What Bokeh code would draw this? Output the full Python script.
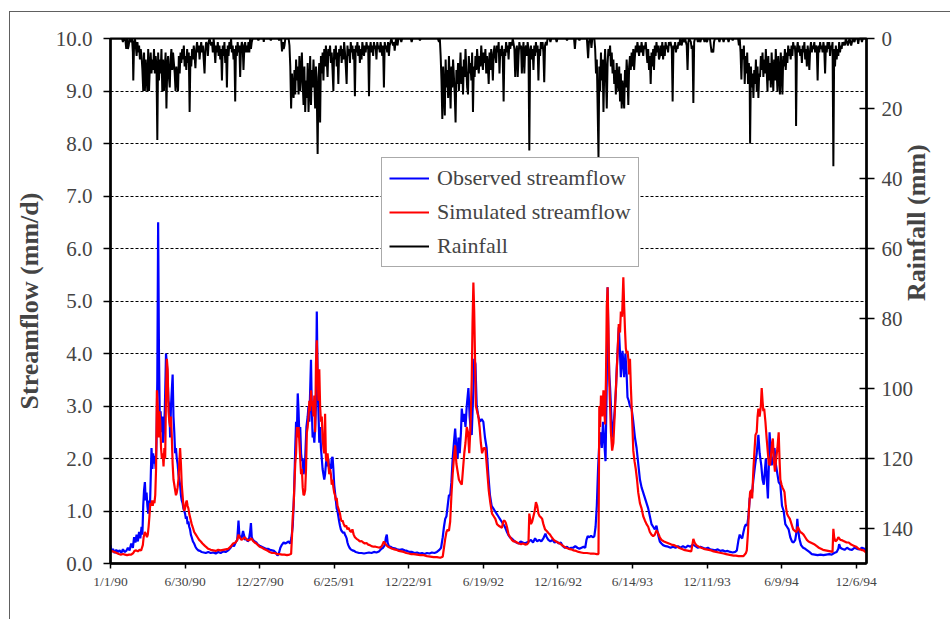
import math
from bokeh.plotting import figure
from bokeh.models import Range1d, LinearAxis, FixedTicker, PrintfTickFormatter, Legend, LegendItem, Label
from bokeh.embed import file_html
from bokeh.resources import INLINE

FONT = "Liberation Serif"

# ---- tick labels (day index from 1/1/90) ----
x_ticks = [0, 180, 360, 540, 720, 900, 1080, 1260, 1440, 1620, 1800]
x_labels = ["1/1/90", "6/30/90", "12/27/90", "6/25/91", "12/22/91", "6/19/92",
            "12/16/92", "6/14/93", "12/11/93", "6/9/94", "12/6/94"]
flow_ticks = [0, 1, 2, 3, 4, 5, 6, 7, 8, 9, 10]
rain_ticks = [0, 20, 40, 60, 80, 100, 120, 140]

# ---- observed streamflow (day, mm/d) ----
observed_flow = [
    (0, 0.35), (3, 0.22), (6, 0.28), (10, 0.2), (14, 0.26), (18, 0.22), (22, 0.25), (26, 0.2), (30, 0.27),
    (34, 0.22), (38, 0.24), (42, 0.3), (46, 0.25), (50, 0.38), (54, 0.3), (57, 0.5), (60, 0.4), (63, 0.55),
    (66, 0.42), (69, 0.6), (72, 0.48), (75, 0.7), (77, 0.55), (79, 1.1), (81, 1.4), (83, 1.55), (85, 1.2),
    (87, 1.35), (89, 1.1), (91, 0.95), (93, 1.2), (95, 1.0), (97, 1.6), (99, 2.2), (101, 1.8), (103, 2.1),
    (105, 1.9), (107, 2.05), (109, 1.8), (111, 2.3), (113, 3.5), (115, 6.5), (117, 4.0), (119, 2.7),
    (121, 2.9), (123, 2.5), (125, 2.8), (127, 2.3), (129, 2.5), (131, 2.9), (133, 3.6), (134, 4.0),
    (136, 3.8), (138, 3.5), (140, 3.1), (142, 3.0), (144, 2.4), (146, 3.0), (148, 3.3), (150, 3.6),
    (152, 2.8), (154, 2.5), (156, 2.1), (158, 2.2), (160, 2.0), (162, 1.9), (164, 1.7), (166, 1.6),
    (168, 1.5), (170, 1.3), (172, 1.2), (174, 1.15), (176, 1.05), (178, 1.0), (180, 0.95), (182, 0.85),
    (184, 0.9), (186, 0.75), (188, 0.8), (190, 0.7), (192, 0.65), (194, 0.55), (196, 0.5), (199, 0.42),
    (202, 0.38), (205, 0.32), (208, 0.28), (212, 0.25), (216, 0.24), (220, 0.22), (225, 0.21), (230, 0.2),
    (236, 0.22), (242, 0.2), (248, 0.21), (254, 0.19), (260, 0.22), (266, 0.2), (272, 0.23), (278, 0.22),
    (284, 0.25), (290, 0.3), (294, 0.35), (298, 0.33), (302, 0.4), (306, 0.45), (309, 0.82), (311, 0.55),
    (314, 0.48), (317, 0.5), (320, 0.62), (322, 0.55), (325, 0.45), (328, 0.48), (331, 0.42), (334, 0.45),
    (337, 0.6), (339, 0.77), (341, 0.5), (344, 0.45), (348, 0.42), (352, 0.4), (356, 0.36), (360, 0.34),
    (365, 0.32), (370, 0.3), (375, 0.28), (380, 0.28), (385, 0.26), (390, 0.25), (395, 0.24), (400, 0.2),
    (403, 0.15), (406, 0.18), (410, 0.3), (414, 0.36), (418, 0.4), (422, 0.38), (426, 0.4), (430, 0.42),
    (434, 0.38), (437, 0.5), (440, 0.72), (443, 1.3), (446, 2.2), (448, 2.7), (450, 2.5), (452, 3.24),
    (454, 2.9), (456, 2.4), (458, 2.6), (460, 2.1), (462, 1.95), (464, 2.0), (466, 1.7), (468, 1.8),
    (470, 2.0), (473, 2.6), (476, 2.8), (478, 3.0), (480, 2.7), (482, 3.3), (484, 3.88), (486, 2.9),
    (488, 2.4), (490, 2.5), (492, 2.3), (494, 2.6), (496, 3.0), (498, 4.8), (500, 3.5), (502, 2.9),
    (504, 2.3), (506, 2.6), (508, 2.2), (510, 2.0), (512, 1.8), (514, 1.7), (516, 1.6), (518, 1.7),
    (520, 1.9), (522, 2.0), (524, 1.85), (526, 2.0), (528, 1.75), (530, 1.9), (532, 1.8), (534, 2.0),
    (536, 2.03), (538, 1.8), (540, 1.5), (542, 1.35), (544, 1.2), (546, 1.05), (548, 1.0), (550, 0.9),
    (552, 0.8), (554, 0.72), (556, 0.65), (558, 0.62), (560, 0.6), (562, 0.58), (564, 0.6), (566, 0.55),
    (568, 0.52), (570, 0.48), (572, 0.4), (574, 0.35), (577, 0.3), (580, 0.27), (584, 0.25), (588, 0.24),
    (592, 0.22), (596, 0.21), (600, 0.2), (606, 0.2), (612, 0.19), (618, 0.2), (624, 0.21), (630, 0.2),
    (636, 0.22), (642, 0.21), (648, 0.23), (654, 0.28), (658, 0.3), (662, 0.35), (665, 0.5), (667, 0.55),
    (669, 0.4), (672, 0.33), (676, 0.32), (680, 0.3), (686, 0.29), (692, 0.27), (698, 0.26), (704, 0.27),
    (710, 0.25), (716, 0.24), (722, 0.22), (728, 0.22), (734, 0.2), (740, 0.21), (746, 0.19), (752, 0.2),
    (758, 0.18), (764, 0.2), (770, 0.19), (776, 0.21), (782, 0.2), (788, 0.22), (794, 0.26), (798, 0.3),
    (802, 0.5), (805, 0.7), (808, 0.85), (811, 0.9), (814, 1.1), (817, 1.3), (820, 1.3), (823, 1.55),
    (826, 2.0), (829, 2.3), (832, 2.57), (835, 2.2), (838, 2.0), (840, 2.4), (843, 2.1), (846, 2.5),
    (848, 2.95), (851, 2.7), (854, 2.85), (857, 2.6), (860, 3.0), (864, 3.34), (867, 2.8), (870, 2.5),
    (872, 2.45), (874, 2.9), (876, 3.3), (878, 3.9), (881, 3.8), (884, 3.0), (888, 2.8), (892, 2.7),
    (896, 2.75), (900, 2.7), (904, 2.4), (908, 2.2), (912, 1.7), (916, 1.3), (920, 1.1), (924, 1.05),
    (928, 1.0), (932, 0.95), (936, 0.9), (940, 0.85), (944, 0.8), (948, 0.75), (952, 0.7), (956, 0.62),
    (960, 0.55), (964, 0.5), (968, 0.48), (972, 0.45), (976, 0.42), (980, 0.4), (985, 0.38), (990, 0.42),
    (995, 0.4), (1000, 0.38), (1005, 0.4), (1010, 0.42), (1015, 0.45), (1020, 0.4), (1025, 0.48),
    (1030, 0.42), (1035, 0.45), (1040, 0.42), (1045, 0.48), (1050, 0.57), (1053, 0.5), (1057, 0.45),
    (1062, 0.42), (1067, 0.45), (1072, 0.4), (1077, 0.42), (1082, 0.38), (1087, 0.4), (1092, 0.33),
    (1097, 0.3), (1102, 0.32), (1107, 0.28), (1112, 0.3), (1117, 0.3), (1122, 0.33), (1127, 0.3),
    (1132, 0.28), (1137, 0.3), (1142, 0.32), (1146, 0.3), (1149, 0.45), (1152, 0.52), (1156, 0.5),
    (1160, 0.53), (1164, 0.5), (1168, 0.52), (1171, 0.7), (1174, 1.1), (1177, 1.8), (1180, 2.3),
    (1183, 2.5), (1186, 2.2), (1189, 2.7), (1192, 2.3), (1195, 1.95), (1198, 3.5), (1200, 5.26),
    (1202, 4.2), (1204, 3.6), (1206, 3.35), (1208, 3.0), (1211, 2.4), (1214, 2.6), (1217, 2.9),
    (1220, 3.3), (1222, 3.7), (1224, 4.0), (1227, 4.5), (1230, 4.0), (1232, 3.55), (1234, 3.8),
    (1236, 4.05), (1238, 3.8), (1240, 3.55), (1243, 4.0), (1246, 3.6), (1248, 3.17), (1251, 3.1),
    (1254, 3.0), (1258, 2.95), (1262, 2.7), (1266, 2.4), (1270, 2.2), (1274, 1.9), (1278, 1.6),
    (1282, 1.45), (1286, 1.35), (1290, 1.25), (1294, 1.15), (1298, 1.05), (1302, 0.9), (1306, 0.75),
    (1310, 0.7), (1314, 0.65), (1318, 0.72), (1322, 0.55), (1326, 0.42), (1330, 0.38), (1334, 0.35),
    (1340, 0.33), (1346, 0.32), (1352, 0.3), (1358, 0.32), (1364, 0.3), (1370, 0.33), (1376, 0.3),
    (1382, 0.33), (1388, 0.3), (1394, 0.34), (1400, 0.32), (1406, 0.36), (1412, 0.33), (1418, 0.3),
    (1424, 0.32), (1430, 0.3), (1436, 0.28), (1442, 0.3), (1448, 0.27), (1454, 0.26), (1460, 0.25),
    (1466, 0.27), (1472, 0.24), (1478, 0.25), (1484, 0.23), (1490, 0.24), (1496, 0.22), (1502, 0.21),
    (1508, 0.22), (1512, 0.25), (1516, 0.45), (1519, 0.55), (1522, 0.5), (1525, 0.48), (1528, 0.6),
    (1531, 0.7), (1534, 0.75), (1537, 0.72), (1540, 0.9), (1543, 1.24), (1546, 1.3), (1549, 1.36),
    (1552, 1.6), (1556, 1.87), (1560, 2.1), (1564, 2.45), (1567, 2.1), (1571, 1.87), (1574, 1.6),
    (1577, 1.5), (1580, 1.8), (1582, 2.0), (1585, 1.5), (1587, 1.24), (1589, 1.8), (1591, 2.5),
    (1594, 2.1), (1596, 1.87), (1600, 2.0), (1603, 2.2), (1606, 1.9), (1609, 1.75), (1613, 1.55),
    (1617, 1.5), (1621, 1.1), (1625, 1.0), (1629, 0.75), (1633, 0.7), (1637, 0.65), (1641, 0.5),
    (1645, 0.42), (1649, 0.4), (1653, 0.45), (1656, 0.6), (1658, 0.85), (1660, 0.65), (1663, 0.47),
    (1667, 0.35), (1672, 0.3), (1677, 0.28), (1682, 0.25), (1687, 0.22), (1693, 0.18), (1700, 0.17),
    (1707, 0.16), (1714, 0.17), (1721, 0.16), (1728, 0.17), (1735, 0.18), (1741, 0.17), (1747, 0.2),
    (1753, 0.22), (1757, 0.28), (1759, 0.37), (1762, 0.3), (1766, 0.28), (1772, 0.26), (1778, 0.3),
    (1784, 0.27), (1790, 0.26), (1796, 0.3), (1802, 0.28), (1808, 0.27), (1814, 0.3), (1820, 0.28),
    (1825, 0.25),
]

# ---- simulated streamflow (day, mm/d) ----
simulated_flow = [
    (0, 0.25), (5, 0.23), (10, 0.22), (15, 0.2), (20, 0.18), (25, 0.17), (30, 0.18), (35, 0.17), (40, 0.16),
    (45, 0.17), (50, 0.17), (55, 0.2), (58, 0.24), (62, 0.25), (66, 0.23), (70, 0.26), (74, 0.25), (78, 0.35),
    (80, 0.5), (83, 0.6), (86, 0.55), (88, 0.5), (90, 0.55), (92, 0.7), (94, 0.9), (96, 1.15), (98, 1.1),
    (100, 1.2), (102, 1.1), (104, 1.2), (106, 1.15), (108, 1.3), (110, 1.8), (112, 3.3), (114, 3.0),
    (116, 2.4), (118, 2.9), (120, 2.7), (122, 2.2), (124, 2.0), (126, 2.1), (128, 1.85), (130, 2.2),
    (132, 2.0), (134, 3.2), (136, 3.9), (138, 3.7), (140, 2.9), (142, 2.7), (144, 2.6), (146, 2.8),
    (148, 2.4), (150, 1.9), (152, 1.6), (154, 1.5), (156, 1.4), (158, 1.3), (160, 1.35), (162, 1.45),
    (164, 1.6), (166, 1.9), (168, 2.2), (170, 1.9), (172, 1.5), (174, 1.3), (176, 1.1), (178, 1.0),
    (180, 1.05), (182, 1.15), (184, 1.2), (186, 1.1), (188, 1.05), (190, 0.95), (193, 0.85), (196, 0.75),
    (199, 0.68), (202, 0.6), (206, 0.55), (210, 0.5), (214, 0.45), (218, 0.42), (222, 0.38), (226, 0.35),
    (230, 0.32), (236, 0.28), (242, 0.26), (248, 0.25), (254, 0.24), (260, 0.26), (266, 0.25), (272, 0.26),
    (278, 0.27), (284, 0.28), (290, 0.32), (296, 0.38), (302, 0.4), (306, 0.45), (309, 0.55), (312, 0.5),
    (316, 0.45), (320, 0.47), (324, 0.5), (328, 0.46), (332, 0.44), (336, 0.45), (340, 0.48), (344, 0.43),
    (348, 0.4), (352, 0.38), (356, 0.35), (360, 0.32), (366, 0.3), (372, 0.27), (378, 0.25), (384, 0.22),
    (390, 0.2), (396, 0.2), (402, 0.18), (408, 0.18), (414, 0.17), (420, 0.17), (426, 0.16), (432, 0.17),
    (436, 0.18), (438, 0.5), (440, 0.9), (442, 1.1), (444, 1.5), (446, 1.9), (448, 2.1), (450, 2.6),
    (452, 2.4), (454, 2.6), (456, 2.3), (458, 2.0), (460, 1.7), (462, 1.8), (464, 1.45), (466, 1.3),
    (468, 1.32), (470, 1.4), (472, 1.8), (474, 2.5), (476, 2.6), (478, 2.8), (480, 3.1), (482, 2.9),
    (484, 3.3), (486, 3.0), (488, 3.1), (490, 2.8), (492, 3.2), (494, 2.5), (496, 3.8), (498, 4.25),
    (500, 3.6), (502, 3.1), (504, 3.7), (506, 3.0), (508, 2.7), (510, 2.8), (512, 2.4), (514, 2.2),
    (516, 2.1), (518, 2.85), (520, 2.0), (522, 1.95), (524, 2.1), (526, 1.9), (528, 1.7), (530, 1.8),
    (532, 1.7), (534, 1.5), (536, 1.6), (538, 1.45), (540, 1.35), (542, 1.3), (544, 1.2), (546, 1.25),
    (548, 1.1), (550, 1.05), (552, 1.0), (554, 0.95), (556, 0.85), (558, 0.8), (560, 0.82), (563, 0.75),
    (566, 0.7), (569, 0.72), (572, 0.65), (575, 0.68), (578, 0.62), (581, 0.6), (584, 0.65), (587, 0.55),
    (590, 0.5), (594, 0.47), (598, 0.45), (602, 0.42), (606, 0.43), (610, 0.4), (614, 0.38), (618, 0.39),
    (622, 0.36), (626, 0.35), (630, 0.33), (635, 0.32), (640, 0.32), (645, 0.31), (650, 0.3), (655, 0.33),
    (660, 0.42), (663, 0.38), (666, 0.35), (670, 0.32), (675, 0.3), (680, 0.28), (685, 0.27), (690, 0.26),
    (696, 0.24), (702, 0.23), (708, 0.22), (714, 0.2), (720, 0.19), (726, 0.18), (732, 0.18), (740, 0.17),
    (748, 0.16), (756, 0.16), (764, 0.14), (772, 0.13), (780, 0.12), (788, 0.12), (796, 0.11), (802, 0.13),
    (805, 0.3), (808, 0.47), (811, 0.6), (814, 0.65), (817, 0.62), (820, 0.8), (823, 1.3), (826, 1.7),
    (829, 2.0), (832, 2.25), (835, 1.9), (838, 1.75), (841, 1.6), (844, 1.55), (848, 1.5), (851, 1.8),
    (854, 2.1), (857, 2.3), (860, 2.6), (863, 2.5), (866, 2.1), (869, 2.6), (872, 3.5), (874, 4.6),
    (876, 5.35), (878, 4.8), (880, 3.9), (882, 3.0), (885, 2.9), (888, 2.8), (891, 2.6), (894, 2.3),
    (897, 2.1), (901, 2.2), (905, 2.2), (909, 1.8), (913, 1.4), (917, 1.15), (921, 0.95), (925, 0.9),
    (929, 0.85), (933, 0.75), (937, 0.72), (941, 0.7), (945, 0.68), (948, 0.8), (951, 0.82), (954, 0.78),
    (957, 0.7), (961, 0.55), (965, 0.5), (969, 0.45), (973, 0.42), (977, 0.42), (981, 0.4), (986, 0.38),
    (991, 0.37), (996, 0.38), (1001, 0.36), (1006, 0.37), (1009, 0.4), (1011, 0.95), (1013, 0.85),
    (1015, 0.75), (1018, 0.8), (1021, 0.9), (1024, 1.0), (1027, 1.17), (1030, 1.1), (1033, 0.95),
    (1036, 0.9), (1039, 0.88), (1042, 0.85), (1045, 0.75), (1049, 0.65), (1053, 0.62), (1057, 0.58),
    (1061, 0.55), (1065, 0.5), (1070, 0.45), (1075, 0.42), (1080, 0.4), (1085, 0.38), (1090, 0.35),
    (1095, 0.32), (1100, 0.3), (1106, 0.28), (1112, 0.27), (1118, 0.25), (1124, 0.24), (1130, 0.22),
    (1136, 0.21), (1142, 0.2), (1150, 0.2), (1158, 0.19), (1166, 0.19), (1174, 0.18), (1178, 0.18),
    (1180, 3.0), (1182, 2.6), (1184, 3.2), (1187, 2.8), (1190, 3.3), (1192, 2.9), (1194, 2.65),
    (1196, 3.5), (1198, 4.9), (1200, 5.26), (1202, 4.5), (1204, 3.5), (1206, 3.0), (1208, 2.5),
    (1211, 2.15), (1214, 2.3), (1218, 2.98), (1222, 3.65), (1225, 4.2), (1227, 4.56), (1230, 4.4),
    (1232, 4.8), (1235, 4.7), (1238, 5.45), (1240, 4.9), (1242, 4.45), (1244, 4.1), (1246, 4.0),
    (1248, 4.05), (1250, 3.9), (1252, 3.6), (1254, 3.9), (1256, 3.4), (1258, 3.0), (1260, 2.6),
    (1262, 2.15), (1265, 1.95), (1268, 1.8), (1271, 1.6), (1274, 1.35), (1278, 1.15), (1282, 1.05),
    (1286, 0.9), (1290, 0.82), (1294, 0.75), (1298, 0.7), (1302, 0.6), (1306, 0.55), (1310, 0.52),
    (1314, 0.55), (1318, 0.63), (1322, 0.58), (1326, 0.5), (1330, 0.45), (1336, 0.42), (1342, 0.4),
    (1348, 0.38), (1354, 0.36), (1360, 0.35), (1366, 0.33), (1372, 0.3), (1378, 0.28), (1384, 0.26),
    (1390, 0.25), (1396, 0.24), (1402, 0.23), (1407, 0.47), (1410, 0.4), (1414, 0.35), (1420, 0.32),
    (1426, 0.3), (1432, 0.28), (1438, 0.27), (1444, 0.26), (1450, 0.25), (1456, 0.23), (1462, 0.22),
    (1468, 0.21), (1474, 0.2), (1480, 0.19), (1486, 0.18), (1492, 0.17), (1498, 0.16), (1504, 0.15),
    (1510, 0.15), (1516, 0.14), (1522, 0.14), (1528, 0.14), (1534, 0.2), (1536, 0.25), (1539, 0.6),
    (1541, 1.0), (1544, 1.36), (1547, 1.4), (1549, 1.24), (1552, 1.8), (1555, 2.2), (1557, 2.45),
    (1560, 2.5), (1562, 2.8), (1564, 2.95), (1567, 2.8), (1570, 3.0), (1572, 3.34), (1574, 3.1),
    (1576, 2.9), (1578, 2.95), (1581, 2.7), (1584, 2.38), (1587, 2.1), (1589, 1.9), (1592, 1.87),
    (1595, 2.1), (1597, 2.3), (1599, 2.38), (1601, 2.0), (1604, 1.75), (1607, 2.0), (1610, 2.2),
    (1613, 2.5), (1615, 2.0), (1617, 1.6), (1620, 1.5), (1622, 1.45), (1625, 1.4), (1627, 1.36),
    (1630, 1.1), (1633, 0.95), (1636, 0.9), (1640, 0.85), (1644, 0.75), (1648, 0.65), (1652, 0.62),
    (1656, 0.6), (1659, 0.7), (1662, 0.65), (1665, 0.6), (1669, 0.58), (1673, 0.55), (1677, 0.5),
    (1681, 0.45), (1685, 0.42), (1690, 0.4), (1695, 0.38), (1700, 0.36), (1705, 0.33), (1710, 0.3),
    (1715, 0.28), (1720, 0.26), (1726, 0.25), (1732, 0.24), (1738, 0.23), (1743, 0.22), (1745, 0.66),
    (1747, 0.5), (1750, 0.42), (1754, 0.45), (1757, 0.5), (1762, 0.45), (1767, 0.44), (1772, 0.42),
    (1777, 0.4), (1782, 0.4), (1788, 0.36), (1794, 0.34), (1800, 0.32), (1806, 0.28), (1812, 0.26),
    (1818, 0.25), (1825, 0.2),
]

# ---- daily rainfall (day, mm) ----
rainfall = [
    (0, 0), (28, 0), (30, 1), (32, 0), (36, 0.5), (38, 3), (40, 0), (42, 3), (44, 2), (46, 0), (50, 1),
    (52, 0), (54, 4), (55, 12), (57, 1), (59, 0), (61, 2), (63, 5), (65, 1), (67, 4), (69, 2), (71, 6),
    (73, 3), (75, 5), (77, 9), (79, 15), (81, 4), (83, 15), (85, 6), (87, 11), (89, 15), (91, 3), (93, 15),
    (95, 8), (97, 4), (99, 10), (101, 6), (103, 9), (105, 3), (107, 10), (109, 5), (111, 8), (113, 29),
    (115, 4), (117, 12), (119, 6), (121, 10), (123, 3), (125, 15), (127, 6), (129, 15), (131, 9), (133, 4),
    (135, 20), (137, 8), (139, 5), (141, 11), (143, 14), (145, 6), (147, 3), (149, 9), (151, 4), (153, 7),
    (155, 10), (157, 15), (159, 8), (161, 12), (163, 15), (165, 5), (167, 10), (169, 4), (171, 7), (173, 3),
    (175, 6), (177, 2), (179, 8), (181, 5), (183, 9), (185, 3), (187, 7), (189, 4), (191, 21), (193, 5),
    (195, 8), (197, 3), (199, 6), (201, 2), (203, 5), (205, 8.5), (207, 3), (209, 1), (211, 4), (213, 2),
    (215, 6), (217, 3), (219, 1), (221, 4), (223, 2), (225, 6), (227, 10), (229, 3), (231, 1), (233, 2),
    (235, 5), (237, 1), (239, 0), (243, 2), (245, 1), (247, 4), (249, 0), (251, 3), (253, 7), (255, 2),
    (257, 4), (259, 1), (261, 5), (263, 2), (265, 6), (267, 3), (269, 12), (271, 2), (273, 5), (275, 1),
    (277, 7), (279, 3), (281, 14), (283, 2), (285, 5), (287, 1), (289, 3), (291, 0), (293, 4), (295, 2),
    (297, 6), (299, 3), (301, 18), (303, 2), (305, 5), (307, 1), (309, 4), (311, 2), (313, 11), (315, 3),
    (317, 1), (319, 2), (321, 9), (323, 3), (325, 1), (327, 4), (329, 2), (331, 4), (333, 1), (335, 4),
    (337, 0), (339, 3), (341, 1), (343, 0), (355, 0), (357, 0.5), (359, 0), (369, 0), (370, 1), (371, 0),
    (385, 0), (387, 0.5), (389, 0), (405, 0), (407, 0.5), (409, 0), (412, 0), (414, 3.7), (416, 1),
    (418, 3), (420, 2), (422, 0), (430, 0), (432, 2), (434, 8), (436, 20), (438, 10), (440, 15), (442, 17),
    (444, 9), (446, 16), (448, 6), (450, 12), (452, 8), (454, 16), (456, 5), (458, 15), (460, 10), (462, 4),
    (464, 13), (466, 19), (468, 8), (470, 21), (472, 12), (474, 17), (476, 7), (478, 21), (480, 14),
    (482, 5), (484, 19), (486, 9), (488, 14), (490, 6), (492, 12), (494, 20), (496, 8), (498, 16),
    (500, 33), (502, 11), (504, 7), (506, 24), (508, 5), (510, 10), (512, 4), (514, 12), (516, 3), (518, 8),
    (520, 2), (522, 6), (524, 11), (526, 3), (528, 5), (530, 2), (532, 7), (534, 4), (536, 9), (538, 15),
    (540, 3), (542, 6), (544, 2), (546, 8), (548, 4), (550, 13), (552, 3), (554, 5), (556, 2), (558, 7),
    (560, 3), (562, 6), (564, 1), (566, 4), (568, 8), (570, 13), (572, 2), (574, 5), (576, 3), (578, 7),
    (580, 1), (582, 4), (584, 2), (586, 6), (588, 3), (590, 16.5), (592, 2), (594, 4), (596, 1), (598, 5),
    (600, 2), (602, 7), (604, 3), (606, 6), (608, 1), (610, 3), (612, 5), (614, 2), (616, 4), (618, 1),
    (620, 3), (622, 2), (624, 16.5), (626, 3), (628, 1), (630, 4), (632, 2), (634, 5), (636, 1), (638, 3),
    (640, 2), (642, 6), (644, 1), (646, 3), (648, 2), (650, 4), (652, 1), (654, 3), (656, 5), (658, 2),
    (660, 14), (662, 1), (664, 3), (666, 2), (668, 4), (670, 1), (672, 5), (674, 2), (676, 1), (678, 0),
    (682, 2), (684, 1), (686, 3.5), (688, 1), (690, 0), (693, 2), (695, 0), (700, 0), (702, 1), (704, 0),
    (725, 0), (727, 1), (729, 0), (745, 0), (747, 0.5), (749, 0), (790, 0), (793, 1), (795, 0), (797, 5),
    (799, 12), (801, 23), (803, 8), (805, 15), (807, 22), (809, 6), (811, 14), (813, 9), (815, 17),
    (817, 5), (819, 12), (821, 20), (823, 8), (825, 14), (827, 6), (829, 11), (831, 16), (833, 24),
    (835, 9), (837, 13), (839, 7), (841, 15), (843, 10), (845, 4), (847, 13), (849, 8), (851, 16), (853, 6),
    (855, 11), (857, 3), (859, 9), (861, 14), (863, 16), (865, 5), (867, 10), (869, 7), (871, 12), (873, 4),
    (875, 21), (877, 8), (879, 11), (881, 5), (883, 9), (885, 3), (887, 7), (889, 10), (891, 5), (893, 8),
    (895, 2), (897, 6), (899, 9), (901, 4), (903, 7), (905, 3), (907, 10), (909, 5), (911, 8), (913, 13),
    (915, 4), (917, 9), (919, 3), (921, 6), (923, 12), (925, 4), (927, 2), (929, 5), (931, 7), (933, 2),
    (935, 4), (937, 1), (939, 10), (941, 3), (943, 5), (945, 2), (947, 6), (949, 18), (951, 3), (953, 5),
    (955, 1), (957, 4), (959, 2), (961, 6), (963, 1), (965, 3), (967, 1), (969, 2), (971, 0), (975, 3),
    (977, 11), (979, 4), (981, 2), (983, 11), (985, 5), (987, 1), (989, 3), (991, 2), (993, 10), (995, 4),
    (997, 1), (999, 10), (1001, 3), (1003, 2), (1005, 5), (1007, 1), (1009, 3), (1011, 32), (1013, 4),
    (1015, 2), (1017, 6), (1019, 3), (1021, 9), (1023, 2), (1025, 5), (1027, 1), (1029, 4), (1031, 2),
    (1033, 12), (1035, 3), (1037, 5), (1039, 1), (1041, 3), (1043, 1), (1045, 4), (1047, 12.5), (1049, 2),
    (1051, 1), (1053, 2), (1055, 0), (1060, 0), (1062, 1), (1064, 0), (1075, 0), (1077, 1), (1079, 0),
    (1100, 0), (1102, 0.5), (1104, 0), (1119, 0), (1121, 3), (1123, 0), (1130, 0), (1132, 0.5), (1134, 0),
    (1150, 0), (1153, 5.6), (1155, 1), (1157, 0), (1159, 0), (1161, 2.7), (1163, 0), (1168, 0), (1170, 3),
    (1172, 10), (1174, 6), (1176, 20), (1178, 34), (1180, 8), (1182, 15), (1184, 4), (1186, 12), (1188, 6),
    (1190, 21), (1192, 9), (1194, 3), (1196, 11), (1198, 20), (1200, 7), (1202, 3), (1204, 5), (1206, 2),
    (1208, 8), (1210, 4), (1212, 10), (1214, 6), (1216, 13), (1218, 9), (1220, 16), (1222, 7), (1224, 12),
    (1226, 15), (1228, 8), (1230, 18), (1232, 10), (1234, 20), (1236, 12), (1238, 16), (1240, 20),
    (1242, 9), (1244, 14), (1246, 6), (1248, 11), (1250, 19), (1252, 8), (1254, 5), (1256, 9), (1258, 4),
    (1260, 8), (1262, 3), (1264, 9), (1266, 5), (1268, 2), (1270, 4), (1272, 1), (1274, 3), (1276, 5),
    (1278, 2), (1280, 4), (1282, 1), (1284, 3), (1286, 5), (1288, 2), (1290, 3), (1292, 1), (1294, 4),
    (1296, 7), (1298, 3), (1300, 9), (1302, 5), (1304, 13), (1306, 4), (1308, 8), (1310, 3), (1312, 9),
    (1314, 2), (1316, 5), (1318, 1), (1320, 4), (1322, 2), (1324, 6), (1326, 5), (1328, 2), (1330, 5),
    (1332, 1), (1334, 6), (1336, 2), (1338, 5), (1340, 1), (1342, 3), (1344, 2), (1346, 4), (1348, 1),
    (1350, 2), (1352, 1), (1355, 3), (1357, 18), (1359, 2), (1361, 3), (1363, 1), (1365, 4), (1367, 2),
    (1369, 3), (1371, 1), (1373, 2), (1375, 0), (1379, 2), (1381, 0), (1385, 1), (1387, 0), (1391, 2),
    (1393, 9), (1395, 1), (1397, 0), (1401, 1), (1403, 3), (1405, 2), (1407, 18.4), (1409, 1), (1411, 0),
    (1416, 0), (1418, 1), (1420, 0), (1424, 1), (1426, 0), (1432, 0), (1434, 1), (1436, 0), (1440, 1),
    (1442, 0), (1447, 0), (1449, 2), (1451, 4), (1453, 3), (1455, 4), (1457, 1), (1459, 0), (1468, 0),
    (1470, 1), (1472, 0), (1478, 0), (1480, 1), (1482, 0), (1490, 0), (1492, 1), (1494, 0), (1500, 0),
    (1502, 0.5), (1504, 0), (1515, 0), (1517, 2), (1519, 0), (1521, 4), (1523, 11.7), (1525, 3), (1527, 6),
    (1529, 2), (1531, 13), (1533, 5), (1535, 10), (1537, 4), (1539, 13), (1541, 7), (1543, 12), (1544, 30),
    (1546, 8), (1548, 14), (1550, 10), (1552, 17), (1554, 9), (1556, 13), (1558, 6), (1560, 15), (1562, 8),
    (1564, 17), (1566, 10), (1568, 11), (1570, 5), (1572, 9), (1574, 4), (1576, 11), (1578, 6), (1580, 10),
    (1582, 3), (1584, 9), (1586, 15), (1588, 5), (1590, 12), (1592, 7), (1594, 14), (1596, 4), (1598, 10),
    (1600, 15), (1602, 6), (1604, 12), (1606, 3), (1608, 9), (1610, 15), (1612, 5), (1614, 10), (1616, 16),
    (1618, 4), (1620, 9), (1622, 16), (1624, 5), (1626, 8), (1628, 3), (1630, 9), (1632, 4), (1634, 7),
    (1636, 2), (1638, 5), (1640, 3), (1642, 6), (1644, 2), (1646, 5), (1648, 1), (1650, 3), (1652, 2),
    (1654, 6), (1655, 25), (1657, 3), (1659, 1), (1661, 4), (1663, 2), (1665, 5), (1667, 3), (1669, 7),
    (1671, 2), (1673, 4), (1675, 1), (1677, 6), (1679, 3), (1681, 8), (1683, 2), (1685, 5), (1687, 9),
    (1689, 3), (1691, 1), (1693, 4), (1695, 2), (1697, 3), (1699, 1), (1701, 4), (1703, 2), (1705, 3),
    (1707, 12), (1709, 2), (1711, 4), (1713, 1), (1715, 3), (1717, 2), (1719, 4), (1721, 1), (1723, 3),
    (1725, 10), (1727, 2), (1729, 4), (1731, 1), (1733, 3), (1735, 1), (1737, 5), (1739, 2), (1741, 3),
    (1743, 1), (1745, 36.5), (1747, 3), (1749, 8), (1751, 2), (1753, 6), (1755, 3), (1757, 5), (1759, 1),
    (1761, 4), (1763, 2), (1765, 3), (1767, 1), (1769, 2), (1771, 1), (1773, 2), (1775, 0), (1778, 1),
    (1780, 2), (1782, 1), (1784, 0), (1788, 2), (1790, 1), (1792, 0), (1796, 1), (1798, 0), (1803, 0),
    (1805, 1.5), (1807, 0), (1812, 0), (1814, 1), (1816, 0), (1825, 0),
]

obs_day = [d for d, _ in observed_flow]
obs_q = [v for _, v in observed_flow]
sim_day = [d for d, _ in simulated_flow]
sim_q = [v for _, v in simulated_flow]
rain_day = [d for d, _ in rainfall]
rain_mm = [v for _, v in rainfall]

p = figure(width=941, height=608, x_range=Range1d(0, 1825), y_range=Range1d(0, 10),
           output_backend="svg", toolbar_location=None,
           min_border_left=100, min_border_right=85, min_border_top=26, min_border_bottom=57)
p.extra_y_ranges = {"rain": Range1d(150, 0)}
p.background_fill_color = "white"
p.border_fill_color = "white"
p.outline_line_color = "black"
p.outline_line_width = 2
p.outline_line_alpha = 1
p.styles = {"border-left": "1px solid #606060", "border-top": "1px solid #606060",
            "margin-top": "11px", "margin-left": "9px"}

# grid
p.xgrid.visible = False
p.ygrid.ticker = FixedTicker(ticks=flow_ticks)
p.ygrid.grid_line_color = "black"
p.ygrid.grid_line_dash = "3 2"
p.ygrid.grid_line_width = 1

# left axis
ya = p.yaxis[0]
ya.ticker = FixedTicker(ticks=flow_ticks)
ya.formatter = PrintfTickFormatter(format="%.1f")
ya.axis_label = "Streamflow (mm/d)"
ya.axis_label_text_font = FONT
ya.axis_label_text_font_size = "26px"
ya.axis_label_text_font_style = "bold"
ya.axis_label_standoff = 9
ya.major_label_text_font = FONT
ya.major_label_text_font_size = "21px"
ya.major_label_standoff = 11
ya.major_tick_out = 7
ya.major_tick_in = 0
ya.minor_tick_out = 0
ya.minor_tick_in = 0
ya.axis_line_width = 2.5
ya.major_tick_line_width = 1.5

# bottom axis
xa = p.xaxis[0]
xa.ticker = FixedTicker(ticks=x_ticks)
xa.major_label_overrides = {t: s for t, s in zip(x_ticks, x_labels)}
xa.major_label_text_font = FONT
xa.major_label_text_font_size = "13.5px"
xa.major_label_standoff = 5
xa.major_tick_out = 5
xa.major_tick_in = 0
xa.minor_tick_out = 0
xa.minor_tick_in = 0
xa.axis_line_width = 2.5
xa.major_tick_line_width = 1.5

# right axis (rainfall, inverted)
ra = LinearAxis(y_range_name="rain", ticker=FixedTicker(ticks=rain_ticks))
ra.major_label_text_font = FONT
ra.major_label_text_font_size = "21px"
ra.major_label_standoff = 7
ra.major_tick_out = 8
ra.major_tick_in = 7
ra.minor_tick_out = 0
ra.minor_tick_in = 0
ra.axis_line_width = 2.5
ra.major_tick_line_width = 1.5
ra.axis_label_text_font = FONT
ra.axis_label_text_font_size = "26px"
ra.axis_label_text_font_style = "bold"
ra.axis_label_standoff = 0
use_axis_title = True
try:
    ra.axis_label_orientation = math.pi / 2
except Exception:
    use_axis_title = False
if use_axis_title:
    ra.axis_label = "Rainfall (mm)"
p.add_layout(ra, "right")
if not use_axis_title:
    p.add_layout(Label(x=1825, y=5, x_offset=72, text="Rainfall (mm)", angle=math.pi / 2,
                       text_font=FONT, text_font_size="26px", text_font_style="bold",
                       text_align="center", text_baseline="middle"))

r_obs = p.line(obs_day, obs_q, line_color="#0000ff", line_width=2.2)
r_sim = p.line(sim_day, sim_q, line_color="#ff0000", line_width=2.2)
r_rain = p.line(rain_day, rain_mm, y_range_name="rain", line_color="black", line_width=2)

legend = Legend(items=[
    LegendItem(label="Observed streamflow", renderers=[r_obs]),
    LegendItem(label="Simulated streamflow", renderers=[r_sim]),
    LegendItem(label="Rainfall", renderers=[r_rain]),
], location=(271, 296))
legend.label_text_font = FONT
legend.label_text_font_size = "22px"
legend.glyph_width = 40
legend.glyph_height = 26
legend.label_height = 26
legend.label_standoff = 8
legend.spacing = 8
legend.padding = 7
legend.margin = 0
legend.border_line_color = "#555555"
legend.border_line_width = 1
legend.background_fill_alpha = 1
p.add_layout(legend)

open("out.html", "w").write(file_html(p, INLINE))
